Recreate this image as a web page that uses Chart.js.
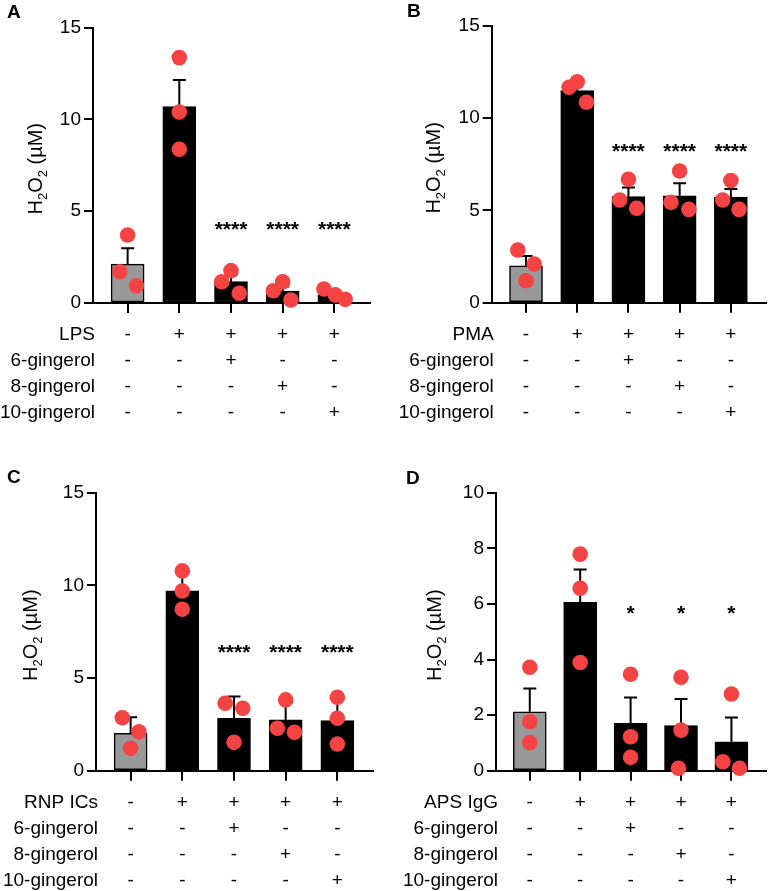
<!DOCTYPE html>
<html>
<head>
<meta charset="utf-8">
<script src="https://cdn.jsdelivr.net/npm/chart.js@4.4.0/dist/chart.umd.min.js"></script>
<style>
  html, body { margin: 0; padding: 0; background: #fff; }
  #wrap { position: relative; width: 774px; height: 891px; }
  canvas { position: absolute; }
</style>
</head>
<body>
<div id="wrap">
  <canvas id="cA" width="387" height="440" style="left:0;top:0"></canvas>
  <canvas id="cB" width="387" height="440" style="left:387px;top:0"></canvas>
  <canvas id="cC" width="387" height="451" style="left:0;top:440px"></canvas>
  <canvas id="cD" width="387" height="451" style="left:387px;top:440px"></canvas>
</div>
<script>
// treatment table under every panel
const gingerolRows = ['6-gingerol', '8-gingerol', '10-gingerol'];
const stimSigns = ['-', '+', '+', '+', '+'];
const g6Signs = ['-', '-', '+', '-', '-'];
const g8Signs = ['-', '-', '-', '+', '-'];
const g10Signs = ['-', '-', '-', '-', '+'];

// A - LPS
const meanA = [2.12, 10.69, 1.16, 0.65, 0.44];
const semA = [0.86, 1.45, 0.36, 0.25, 0.16];
const ptsA = [[3.7, 1.7, 0.94], [13.36, 10.4, 8.37], [1.16, 1.76, 0.53], [0.67, 1.16, 0.16], [0.76, 0.44, 0.2]];
const jitA = [[0, -0.15, 0.17], [0, 0, 0], [-0.18, 0, 0.16], [-0.18, 0, 0.16], [-0.2, 0.02, 0.21]];
const sigA = ['', '', '****', '****', '****'];
const sigLevelA = 4.3;
const yTicksA = [0, 5, 10, 15];

// B - PMA
const meanB = [2.0, 11.5, 5.75, 5.8, 5.72];
const semB = [0.53, 0.34, 0.49, 0.67, 0.45];
const ptsB = [[2.86, 2.1, 1.19], [11.68, 11.98, 10.87], [5.57, 6.69, 5.12], [5.44, 7.14, 5.06], [5.57, 6.62, 5.06]];
const jitB = [[-0.16, 0.16, 0], [-0.16, 0, 0.18], [-0.17, 0, 0.16], [-0.17, 0, 0.18], [-0.16, 0, 0.16]];
const sigB = ['', '', '****', '****', '****'];
const sigLevelB = 8.5;
const yTicksB = [0, 5, 10, 15];

// C - RNP ICs
const meanC = [2.02, 9.71, 2.83, 2.74, 2.7];
const semC = [0.86, 1.07, 1.17, 0.93, 1.29];
const ptsC = [[2.86, 2.1, 1.21], [10.78, 9.7, 8.71], [3.64, 3.37, 1.53], [3.82, 2.29, 2.07], [3.96, 2.83, 1.44]];
const jitC = [[-0.16, 0.16, 0], [0, 0, 0], [-0.17, 0.17, 0], [0, -0.16, 0.17], [0, 0, 0]];
const sigC = ['', '', '****', '****', '****'];
const sigLevelC = 6.7;
const yTicksC = [0, 5, 10, 15];

// D - APS IgG
const meanD = [2.12, 6.06, 1.7, 1.62, 1.04];
const semD = [0.84, 1.18, 0.93, 0.96, 0.87];
const ptsD = [[3.72, 1.76, 1.01], [7.79, 6.56, 3.89], [3.47, 1.22, 0.48], [3.36, 1.46, 0.09], [2.76, 0.32, 0.09]];
const jitD = [[0, 0, 0], [0, 0, 0], [0, 0, 0], [0, 0, -0.05], [0, -0.17, 0.16]];
const sigD = ['', '', '*', '*', '*'];
const sigLevelD = 5.86;
const yTicksD = [0, 2, 4, 6, 8, 10];

const FONT = '"Liberation Sans", Arial, Helvetica, sans-serif';
const RED = 'rgb(244, 67, 67)';
const barColors = ['#999999', '#000000', '#000000', '#000000', '#000000'];

function drawTitle(ctx, x, y) {
  // H2O2 (µM) with subscripts, rotated
  const big = '20px ' + FONT, small = '13px ' + FONT;
  const parts = [['H', big, 0], ['2', small, 5], ['O', big, 0], ['2', small, 5], [' (\u00b5M)', big, 0]];
  ctx.save();
  ctx.translate(x, y);
  ctx.rotate(-Math.PI / 2);
  let w = 0;
  parts.forEach(([t, f]) => { ctx.font = f; w += ctx.measureText(t).width; });
  let cx = -w / 2;
  ctx.textAlign = 'left';
  ctx.textBaseline = 'alphabetic';
  ctx.fillStyle = '#000';
  parts.forEach(([t, f, dy]) => {
    ctx.font = f;
    ctx.fillText(t, cx, dy);
    cx += ctx.measureText(t).width;
  });
  ctx.restore();
}

function makePanel(id, p) {
  const barData = p.mean.map((m, i) => ({x: i, y: m}));
  const dots = [];
  p.pts.forEach((vals, i) => vals.forEach((v, k) => dots.push({x: i + p.jit[i][k], y: v})));

  const decor = {
    id: 'decor' + id,
    afterDatasetDraw(chart, args) {
      if (args.index !== 0) return;
      const ctx = chart.ctx, xs = chart.scales.x, ys = chart.scales.y;
      ctx.save();
      ctx.strokeStyle = '#000';
      ctx.lineWidth = 2;
      p.mean.forEach((m, i) => {
        const x = xs.getPixelForValue(i);
        const y0 = ys.getPixelForValue(m);
        const y1 = ys.getPixelForValue(m + p.sem[i]);
        ctx.beginPath();
        ctx.moveTo(x, y0); ctx.lineTo(x, y1);
        ctx.moveTo(x - 6.5, y1); ctx.lineTo(x + 6.5, y1);
        ctx.stroke();
      });
      ctx.restore();
    },
    afterDraw(chart) {
      const ctx = chart.ctx, xs = chart.scales.x, ys = chart.scales.y;
      ctx.save();
      ctx.fillStyle = '#000';
      // treatment table
      const rows = [[p.stim, stimSigns], [gingerolRows[0], g6Signs], [gingerolRows[1], g8Signs], [gingerolRows[2], g10Signs]];
      const rowOff = [32, 58, 84, 110];
      ctx.font = '19px ' + FONT;
      ctx.textBaseline = 'middle';
      rows.forEach(([name, signs], r) => {
        const y = xs.top + rowOff[r];
        ctx.textAlign = 'right';
        ctx.fillText(name, ys.right + 2, y);
        ctx.textAlign = 'center';
        signs.forEach((s, i) => ctx.fillText(s, xs.getPixelForValue(i), y));
      });
      // significance marks
      ctx.font = 'bold 21px ' + FONT;
      ctx.textAlign = 'center';
      ctx.textBaseline = 'alphabetic';
      p.sig.forEach((s, i) => {
        if (s) ctx.fillText(s, xs.getPixelForValue(i), ys.getPixelForValue(p.sigLevel) + 12);
      });
      // panel letter
      ctx.font = 'bold 19px ' + FONT;
      ctx.textAlign = 'left';
      ctx.fillText(p.letter, p.letterX, p.letterY);
      ctx.restore();
      drawTitle(ctx, p.titleX, (chart.chartArea.top + chart.chartArea.bottom) / 2 + 3.5);
    }
  };

  new Chart(document.getElementById(id), {
    type: 'bar',
    data: {
      datasets: [
        {type: 'bar', data: barData, backgroundColor: barColors, borderColor: '#000', borderWidth: 1.5,
         borderSkipped: false, barThickness: 33, order: 2},
        {type: 'scatter', data: dots, pointRadius: 7.8, pointHoverRadius: 7.8, backgroundColor: RED,
         borderWidth: 0, clip: false, order: 1}
      ]
    },
    options: {
      responsive: false,
      animation: false,
      devicePixelRatio: 1,
      layout: {padding: {left: 0, top: p.padTop, right: p.padRight, bottom: 0}},
      plugins: {legend: {display: false}, tooltip: {enabled: false}},
      scales: {
        x: {
          type: 'linear', min: -0.67, max: 4.69, offset: false,
          afterBuildTicks: s => { s.ticks = stimSigns.map((_, i) => ({value: i})); },
          afterFit: s => { s.height = p.xHeight; },
          ticks: {display: false},
          grid: {offset: false, drawOnChartArea: false, drawTicks: true, tickLength: 10, color: '#000', lineWidth: 2},
          border: {display: true, color: '#000', width: 2}
        },
        y: {
          min: 0, max: p.yTicks[p.yTicks.length - 1],
          afterBuildTicks: s => { s.ticks = p.yTicks.map(v => ({value: v})); },
          afterFit: s => { s.width = p.yWidth; },
          ticks: {font: {family: FONT, size: 19}, color: '#000', padding: 3},
          grid: {drawOnChartArea: false, drawTicks: true, tickLength: 9, color: '#000', lineWidth: 2},
          border: {display: true, color: '#000', width: 2}
        }
      }
    },
    plugins: [decor]
  });
}

makePanel('cA', {mean: meanA, sem: semA, pts: ptsA, jit: jitA, sig: sigA, sigLevel: sigLevelA, yTicks: yTicksA,
  stim: 'LPS', letter: 'A', letterX: 7, letterY: 18, titleX: 42, padTop: 27.5, padRight: 17, yWidth: 93, xHeight: 137});
makePanel('cB', {mean: meanB, sem: semB, pts: ptsB, jit: jitB, sig: sigB, sigLevel: sigLevelB, yTicks: yTicksB,
  stim: 'PMA', letter: 'B', letterX: 20, letterY: 17, titleX: 53, padTop: 26, padRight: 5, yWidth: 104.7, xHeight: 137.3});
makePanel('cC', {mean: meanC, sem: semC, pts: ptsC, jit: jitC, sig: sigC, sigLevel: sigLevelC, yTicks: yTicksC,
  stim: 'RNP ICs', letter: 'C', letterX: 7, letterY: 43, titleX: 37, padTop: 52.7, padRight: 14, yWidth: 96, xHeight: 120.3});
makePanel('cD', {mean: meanD, sem: semD, pts: ptsD, jit: jitD, sig: sigD, sigLevel: sigLevelD, yTicks: yTicksD,
  stim: 'APS IgG', letter: 'D', letterX: 19, letterY: 44, titleX: 54, padTop: 52.7, padRight: 1, yWidth: 109, xHeight: 120.3});
</script>
</body>
</html>
